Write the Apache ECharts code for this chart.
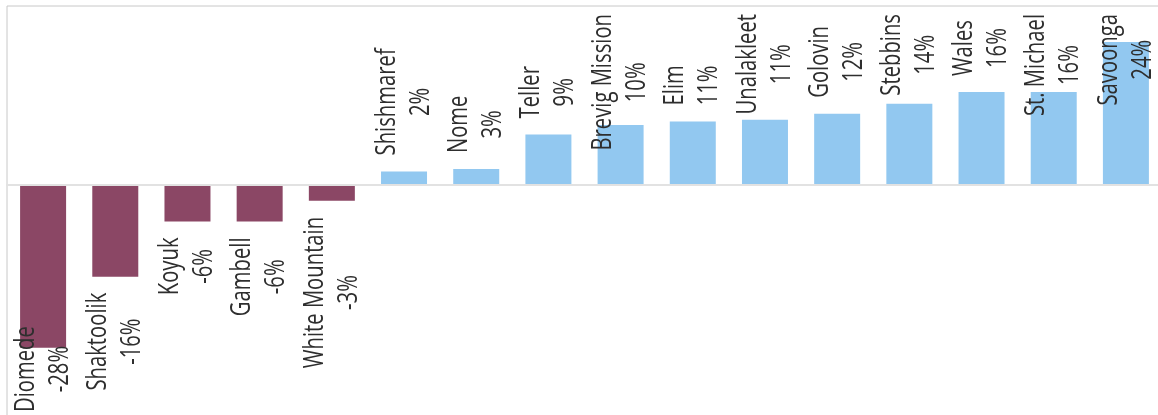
<!DOCTYPE html>
<html>
<head>
<meta charset="utf-8">
<title>Population change by community</title>
<script src="https://cdn.jsdelivr.net/npm/echarts@6/dist/echarts.min.js"></script>
<style>
  html, body { margin: 0; padding: 0; background: #ffffff; }
  #chart { width: 1158px; height: 415px; }
</style>
</head>
<body>
<div id="chart"></div>
<script>
// Communities, ordered from largest loss to largest gain
const communities = [
  'Diomede', 'Shaktoolik', 'Koyuk', 'Gambell', 'White Mountain',
  'Shishmaref', 'Nome', 'Teller', 'Brevig Mission', 'Elim',
  'Unalakleet', 'Golovin', 'Stebbins', 'Wales', 'St. Michael', 'Savoonga'
];

// Percent change for each community
const percentChange = [
  -27.7, -15.6, -6.2, -6.2, -2.7,
  2.3, 2.7, 8.6, 10.2, 10.8,
  11.1, 12.1, 13.8, 15.8, 15.8, 24.3
];

const LOSS_COLOR = '#8b4765';
const GAIN_COLOR = '#92c8f0';

// Label text: narrow sans set upright along the bar
const LABEL_FONT = '400 27px "Open Sans", "Noto Sans", sans-serif';
const LABEL_STRETCH = 0.75;    // horizontal squeeze of the label glyphs
const LABEL_LINE_HEIGHT = 34;
const LABEL_GAP = 16;
const LABEL_TOP_LIMIT = 14;
const LABEL_BOTTOM_LIMIT = 412;

const measureCtx = document.createElement('canvas').getContext('2d');
function labelText(i) {
  return communities[i] + '\n' + Math.round(percentChange[i]) + '%';
}
function labelLength(text) {
  measureCtx.font = LABEL_FONT;
  return Math.max(...text.split('\n').map(t => measureCtx.measureText(t).width)) * LABEL_STRETCH;
}

const chart = echarts.init(document.getElementById('chart'), null, { renderer: 'canvas' });

const option = {
  animation: false,
  backgroundColor: '#ffffff',
  grid: {
    left: 7, top: 6, width: 1155, height: 411,
    outerBoundsMode: 'none',
    show: true,
    borderColor: '#c8c8c8',
    borderWidth: 1,
    backgroundColor: 'transparent',
    containLabel: false
  },
  xAxis: {
    type: 'category',
    data: communities,
    z: 5,
    axisLine: { show: true, onZero: true, lineStyle: { color: '#e2e2e2', width: 2 } },
    axisTick: { show: false },
    axisLabel: { show: false },
    splitLine: { show: false }
  },
  yAxis: {
    type: 'value',
    min: -39.46,
    max: 30.44,
    show: false,
    splitLine: { show: false }
  },
  series: [
    {
      type: 'bar',
      barWidth: 46,
      data: percentChange.map(v => ({
        value: v,
        itemStyle: { color: v < 0 ? LOSS_COLOR : GAIN_COLOR }
      }))
    },
    {
      // name + percent labels, placed beyond the end of each bar
      type: 'custom',
      z: 4,
      silent: true,
      data: percentChange.map((v, i) => [i, v]),
      renderItem: (params, api) => {
        const i = api.value(0);
        const v = api.value(1);
        const base = api.coord([i, 0]);
        const end = api.coord([i, v]);
        const text = labelText(i);
        const len = labelLength(text);
        let cy;
        if (v >= 0) {
          cy = Math.max(end[1] - LABEL_GAP - len / 2, LABEL_TOP_LIMIT + len / 2);
        } else {
          cy = Math.min(end[1] + LABEL_GAP + len / 2, LABEL_BOTTOM_LIMIT - len / 2);
        }
        return {
          type: 'text',
          x: base[0],
          y: cy,
          rotation: Math.PI / 2,
          scaleX: LABEL_STRETCH,
          style: {
            text: text,
            font: LABEL_FONT,
            fill: '#2e2e2e',
            align: 'center',
            verticalAlign: 'middle',
            textAlign: 'center',
            textVerticalAlign: 'middle',
            lineHeight: LABEL_LINE_HEIGHT
          }
        };
      }
    }
  ]
};

chart.setOption(option);
</script>
</body>
</html>
